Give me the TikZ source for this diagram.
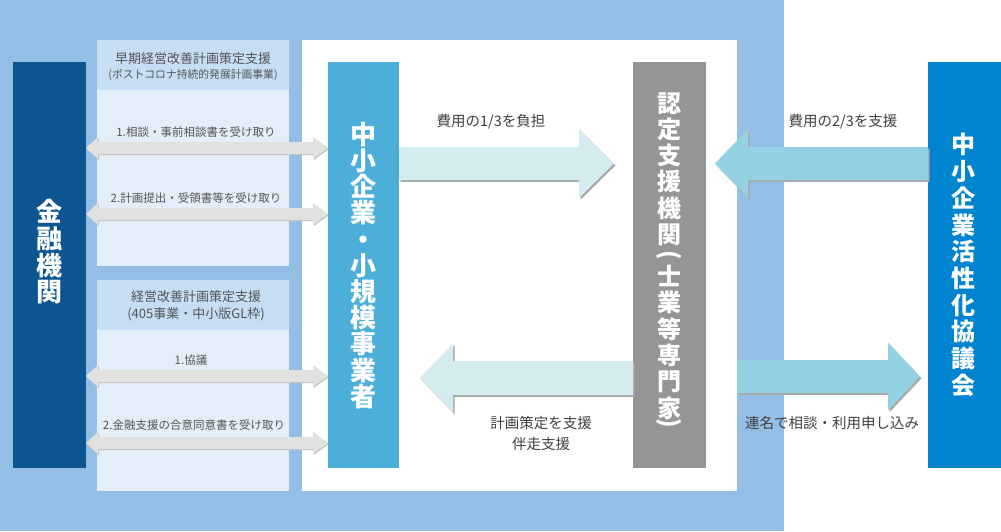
\documentclass[tikz,border=0pt]{standalone}
\usepackage{fontspec}
\usepackage{graphicx}
\newfontfamily\jp{Noto Sans CJK JP}
\usetikzlibrary{calc}
\definecolor{bgblue}{HTML}{93BFE6}
\definecolor{darkblue}{HTML}{0C5591}
\definecolor{midblue}{HTML}{4BAFDA}
\definecolor{boxgray}{HTML}{959595}
\definecolor{rightblue}{HTML}{0084CF}
\definecolor{headfill}{HTML}{C6DDF3}
\definecolor{bodyfill}{HTML}{E4EEF9}
\definecolor{smallarrowfill}{HTML}{E1E1DF}
\definecolor{paleArrow}{HTML}{D4EBEF}
\definecolor{cyanArrow}{HTML}{93D1E3}
\definecolor{shadowgray}{HTML}{A8A8A8}
\definecolor{labeltext}{HTML}{404040}
\definecolor{smalltext}{HTML}{555555}
\newcommand\blockarrow[6]{%
  \fill[#6] ($(#1)+(0,{-(#3)})$) -- ($(#2)+({-(#5)},{-(#3)})$) -- ($(#2)+({-(#5)},{-(#4)})$) -- (#2)
   -- ($(#2)+({-(#5)},{#4})$) -- ($(#2)+({-(#5)},{#3})$) -- ($(#1)+(0,{#3})$) -- cycle;}
\newcommand\dblarrow[7]{%
  \fill[#7] (#1) -- ($(#1)+({#5},{-(#4)})$) -- ($(#1)+({#5},{-(#3)})$) -- ($(#2)+({-(#6)},{-(#3)})$)
   -- ($(#2)+({-(#6)},{-(#4)})$) -- (#2) -- ($(#2)+({-(#6)},{#4})$) -- ($(#2)+({-(#6)},{#3})$)
   -- ($(#1)+({#5},{#3})$) -- ($(#1)+({#5},{#4})$) -- cycle;}
\newcommand\vparen[2]{\smash{\raisebox{\dimexpr #2+0.5\depth\relax}{\rotatebox{-90}{#1}}}}
\begin{document}
\begin{tikzpicture}[x=1pt,y=-1pt,font=\jp,
  boxnode/.style={inner sep=0pt,outer sep=0pt,draw=none,minimum width=#1,minimum height=406pt},
  vtext/.style={text=white,align=center,inner sep=0pt},
  lbl/.style={text=labeltext,inner sep=0pt,font=\jp\fontsize{14.5}{21}\selectfont,align=center},
  smalllbl/.style={text=smalltext,inner sep=0pt,font=\jp\fontsize{11.5}{13}\selectfont},
  shadowed/.style={fill=shadowgray,transform canvas={shift={(1.5pt,-1.8pt)}}},
  smallshadow/.style={fill=shadowgray!70,transform canvas={shift={(0.8pt,-1pt)}}}
]
\useasboundingbox (0,0) rectangle (1001,531);
\fill[white] (0,0) rectangle (1001,531);
% background frames
\fill[bgblue] (0,0) rectangle (784,531);
\fill[white] (302,40) rectangle (737,491);
% panels
\node[fill=bodyfill,inner sep=0pt,minimum width=192pt,minimum height=226pt] (panelA) at (193,153) {};
\node[fill=headfill,inner sep=0pt,minimum width=192pt,minimum height=50pt] (headA) at (193,65) {};
\node[fill=bodyfill,inner sep=0pt,minimum width=192pt,minimum height=211pt] (panelB) at (193,385.5) {};
\node[fill=headfill,inner sep=0pt,minimum width=192pt,minimum height=50pt] (headB) at (193,305) {};
\node[text=smalltext,inner sep=0pt,font=\jp\fontsize{13}{15}\selectfont] (hA1) at (193,59) {早期経営改善計画策定支援};
\node[text=smalltext,inner sep=0pt,font=\jp\fontsize{10.8}{13}\selectfont] (hA2) at (193,75) {(ポストコロナ持続的発展計画事業)};
\node[text=smalltext,inner sep=0pt,font=\jp\fontsize{13}{15}\selectfont] (hB1) at (196,297) {経営改善計画策定支援};
\node[text=smalltext,inner sep=0pt,font=\jp\fontsize{13}{15}\selectfont] (hB2) at (196,314) {(405事業・中小版GL枠)};
% main boxes
\node[boxnode=73pt,fill=darkblue] (kinyu) at (49.5,265) {};
\node[boxnode=71pt,fill=midblue] (chusho) at (363.5,265) {};
\node[boxnode=73pt,fill=boxgray] (nintei) at (669.5,265) {};
\node[boxnode=73pt,fill=rightblue] (kyogikai) at (964.5,265) {};
\node[vtext,font=\jp\bfseries\fontsize{26}{26.7}\selectfont] (kinyuT) at (49.5,252) {金\\融\\機\\関};
\node[vtext,font=\jp\bfseries\fontsize{26}{26.2}\selectfont] (chushoT) at (363.5,265.5) {中\\小\\企\\業\\・\\小\\規\\模\\事\\業\\者};
\node[vtext,anchor=north,font=\jp\bfseries\fontsize{24}{26.3}\selectfont] (ninteiT) at (669.5,92)
  {認\\定\\支\\援\\機\\関\\[-5.3pt]\vparen{(}{9.5pt}\\[-5.3pt]士\\業\\等\\専\\門\\家\\[-11.3pt]\vparen{)}{9.1pt}};
\node[vtext,font=\jp\bfseries\fontsize{24}{26.7}\selectfont] (kyogikaiT) at (963.5,265) {中\\小\\企\\業\\活\\性\\化\\協\\議\\会};
% small double arrows
\coordinate (s1l) at ($(kinyu.east)+(0,-117)$);
\coordinate (s1r) at ($(chusho.west)+(0,-117)$);
\coordinate (s2l) at ($(kinyu.east)+(0,-51)$);
\coordinate (s2r) at ($(chusho.west)+(0,-51)$);
\coordinate (s3l) at ($(kinyu.east)+(0,111)$);
\coordinate (s3r) at ($(chusho.west)+(0,111)$);
\coordinate (s4l) at ($(kinyu.east)+(0,178)$);
\coordinate (s4r) at ($(chusho.west)+(0,178)$);
\foreach \a/\b in {s1l/s1r,s2l/s2r,s3l/s3r,s4l/s4r}{
  \dblarrow{\a}{\b}{6}{11}{12}{15}{smallshadow}
  \dblarrow{\a}{\b}{6}{11}{12}{15}{fill=smallarrowfill}
}
\node[smalllbl] (l1) at (196,132) {1.相談・事前相談書を受け取り};
\node[smalllbl] (l2) at (196,198) {2.計画提出・受領書等を受け取り};
\node[smalllbl] (l3) at (191,360) {1.協議};
\node[smalllbl] (l4) at (194,425) {2.金融支援の合意同意書を受け取り};
% big arrows
\coordinate (a1s) at ($(chusho.east)+(0,-101.5)$);
\coordinate (a1t) at ($(nintei.west)+(-19,-101.5)$);
\coordinate (a2s) at ($(kyogikai.west)+(0,-101.5)$);
\coordinate (a2t) at ($(nintei.east)+(9,-101.5)$);
\coordinate (a3s) at ($(nintei.west)+(0,113)$);
\coordinate (a3t) at ($(chusho.east)+(21,113)$);
\coordinate (a4s) at (737,376.5);
\coordinate (a4t) at ($(kyogikai.west)+(-8,111.5)$);
\blockarrow{a1s}{a1t}{16.5}{34.5}{35}{shadowed}
\blockarrow{a1s}{a1t}{16.5}{34.5}{35}{fill=paleArrow}
\blockarrow{a2s}{a2t}{16.5}{34.5}{-33}{shadowed}
\blockarrow{a2s}{a2t}{16.5}{34.5}{-33}{fill=cyanArrow}
\blockarrow{a3s}{a3t}{17}{34.5}{-33}{shadowed}
\blockarrow{a3s}{a3t}{17}{34.5}{-33}{fill=paleArrow}
\blockarrow{a4s}{a4t}{16.5}{34}{32}{shadowed}
\blockarrow{a4s}{a4t}{16.5}{34}{32}{fill=cyanArrow}
\node[lbl] (t1) at (491,122) {費用の1/3を負担};
\node[lbl] (t2) at (843,122) {費用の2/3を支援};
\node[lbl] (t3) at (541,433.5) {計画策定を支援\\伴走支援};
\node[lbl] (t4) at (832,423) {連名で相談・利用申し込み};
\end{tikzpicture}
\end{document}
